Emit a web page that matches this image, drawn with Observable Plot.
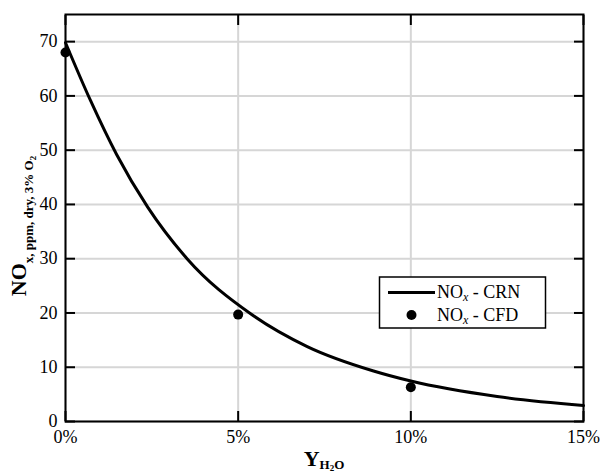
<!DOCTYPE html>
<html><head><meta charset="utf-8">
<script src="https://cdn.jsdelivr.net/npm/d3@7"></script>
<script src="https://cdn.jsdelivr.net/npm/@observablehq/plot@0.6"></script>
<style>body{margin:0;background:#fff} #chart{width:602px;height:475px}</style>
</head><body><div id="chart"></div>
<script>
// CRN model curve, x in % water mass fraction
const crnX = [0, 0.72, 1.48, 2.38, 3.52, 5.36, 7.0, 8.92, 10, 12.5, 15];
const crnY = [69.8, 59.2, 49.2, 39.5, 30, 19.85, 13.8, 9.3, 7.45, 4.6, 2.94];
// CFD points
const cfdX = [0, 5, 10];
const cfdY = [68, 19.7, 6.3];
const xTicks = [0, 5, 10, 15];
const yTicks = [0, 10, 20, 30, 40, 50, 60, 70];

const crn = crnX.map((x, i) => ({x, y: crnY[i]}));
const cfd = cfdX.map((x, i) => ({x, y: cfdY[i]}));

const font = "Liberation Serif";
const gridStyle = {stroke: "#d6d6d6", strokeOpacity: 1, strokeWidth: 2};
const tickStyle = {tickSize: -10, fill: "none", label: null, strokeWidth: 2, stroke: "black"};

const plot = Plot.plot({
  width: 602, height: 475,
  marginLeft: 65, marginRight: 19, marginTop: 14, marginBottom: 54,
  style: {fontSize: "18px", background: "white", color: "black"},
  x: {domain: [0, 15]},
  y: {domain: [0, 75]},
  marks: [
    Plot.gridX(xTicks, gridStyle),
    Plot.gridY(yTicks, gridStyle),
    Plot.axisX(xTicks, {anchor: "bottom", tickSize: 0, tickPadding: 9, tickFormat: d => d + "%", label: null, fontSize: 18, fontFamily: font}),
    Plot.axisX(xTicks, {anchor: "bottom", ...tickStyle}),
    Plot.axisX(xTicks, {anchor: "top", ...tickStyle}),
    Plot.axisY(yTicks, {anchor: "left", tickSize: 0, tickPadding: 8, label: null, fontSize: 18, fontFamily: font}),
    Plot.axisY(yTicks, {anchor: "left", ...tickStyle}),
    Plot.axisY(yTicks, {anchor: "right", ...tickStyle}),
    Plot.frame({stroke: "black", strokeWidth: 2}),
    Plot.line(crn, {x: "x", y: "y", curve: "monotone-x", stroke: "black", strokeWidth: 3}),
    Plot.dot(cfd, {x: "x", y: "y", r: 5, fill: "black", stroke: "none"})
  ]
});
document.getElementById("chart").appendChild(plot);

const svg = d3.select(plot);
svg.attr("font-family", font);
// Y axis label
const yl = svg.append("text")
  .attr("transform", "translate(26,226) rotate(-90)")
  .attr("text-anchor", "middle").attr("font-weight", "bold").attr("fill", "black");
yl.append("tspan").attr("font-size", 22).text("NO");
yl.append("tspan").attr("font-size", 13).attr("dy", 7).text("x, ppm, dry, 3% O");
yl.append("tspan").attr("font-size", 9).attr("dy", 3).text("2");

// X axis label
const xl = svg.append("text")
  .attr("x", 324).attr("y", 466)
  .attr("text-anchor", "middle").attr("font-weight", "bold").attr("fill", "black");
xl.append("tspan").attr("font-size", 22).text("Y");
xl.append("tspan").attr("font-size", 13).attr("dy", 3).text("H");
xl.append("tspan").attr("font-size", 9).attr("dy", 2).text("2");
xl.append("tspan").attr("font-size", 13).attr("dy", -2).text("O");

// Legend
const lg = svg.append("g").attr("font-size", 18).attr("fill", "black").attr("text-anchor", "start");
lg.append("rect").attr("x", 379.5).attr("y", 277).attr("width", 166).attr("height", 51)
  .attr("fill", "white").attr("stroke", "black").attr("stroke-width", 1.5);
lg.append("line").attr("x1", 388).attr("x2", 435).attr("y1", 292.5).attr("y2", 292.5)
  .attr("stroke", "black").attr("stroke-width", 3);
lg.append("circle").attr("cx", 411.5).attr("cy", 315).attr("r", 5).attr("fill", "black");
const labels = [["CRN", 298], ["CFD", 321]];
for (const [name, yy] of labels) {
  const t = lg.append("text").attr("x", 437).attr("y", yy).attr("text-anchor", "start");
  t.append("tspan").text("NO");
  t.append("tspan").attr("font-size", 12).attr("font-style", "italic").attr("dy", 3).text("x");
  t.append("tspan").attr("dy", -3).text(" - " + name);
}
svg.selectAll("text").attr("font-family", font).style("font-family", font);
</script>
</body></html>
